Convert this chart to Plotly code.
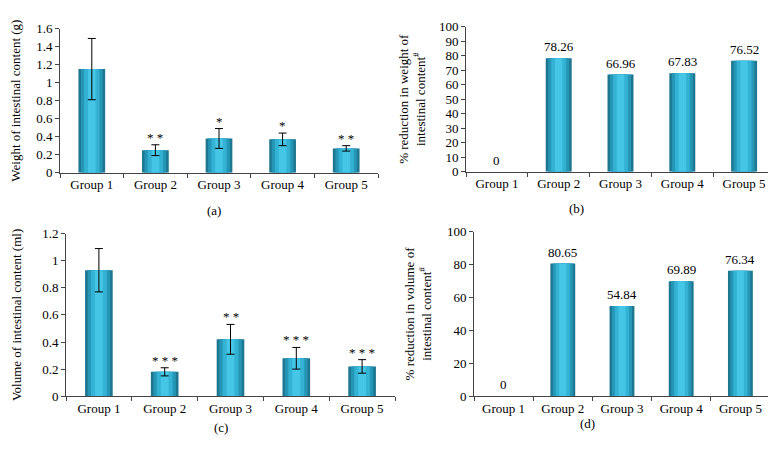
import plotly.graph_objects as go

groups = ["Group 1", "Group 2", "Group 3", "Group 4", "Group 5"]
weight = [1.15, 0.25, 0.38, 0.37, 0.27]
weight_err = [0.34, 0.06, 0.11, 0.07, 0.03]
weight_sig = ["", "* *", "*", "*", "* *"]
weight_red = [0, 78.26, 66.96, 67.83, 76.52]
volume = [0.93, 0.18, 0.42, 0.28, 0.22]
volume_err = [0.16, 0.03, 0.11, 0.08, 0.05]
volume_sig = ["", "* * *", "* *", "* * *", "* * *"]
volume_red = [0, 80.65, 54.84, 69.89, 76.34]

W, H = 776, 462
FONT = "Liberation Serif"

def xd(a, b):
    return [a / W, b / W]

def yd(top, bottom):
    return [1 - bottom / H, 1 - top / H]

panels = [
    dict(x="x", y="y", xdom=xd(52, 370), ydom=yd(14, 163)),
    dict(x="x2", y="y2", xdom=xd(458, 767), ydom=yd(12, 162)),
    dict(x="x3", y="y3", xdom=xd(58, 387), ydom=yd(226, 394)),
    dict(x="x4", y="y4", xdom=xd(466, 762), ydom=yd(224, 394)),
]

fig = go.Figure()

layers = [(0.42, "#1d7791"), (0.34, "#2596b6"), (0.24, "#33b2d4"), (0.12, "#45c6e6")]

def add_bars(vals, p, err=None):
    for i, (w, c) in enumerate(layers):
        last = i == len(layers) - 1
        kw = {}
        if last and err is not None:
            kw["error_y"] = dict(type="data", array=err, visible=True,
                                 color="black", thickness=1, width=4)
        fig.add_trace(go.Bar(x=groups, y=vals, width=w, marker=dict(color=c, line=dict(width=0)),
                             xaxis=p["x"], yaxis=p["y"], showlegend=False, hoverinfo="skip", **kw))

add_bars(weight, panels[0], err=weight_err)
add_bars(weight_red, panels[1])
add_bars(volume, panels[2], err=volume_err)
add_bars(volume_red, panels[3])

annotations = []
for vals, errs, sig, p in [(weight, weight_err, weight_sig, panels[0]),
                           (volume, volume_err, volume_sig, panels[2])]:
    for g, v, e, s in zip(groups, vals, errs, sig):
        if s:
            annotations.append(dict(x=g, y=v + e, xref=p["x"], yref=p["y"], text=s,
                                    showarrow=False, yanchor="bottom", yshift=-2,
                                    font=dict(family=FONT, size=13, color="black")))

for vals, p in [(weight_red, panels[1]), (volume_red, panels[3])]:
    for g, v in zip(groups, vals):
        annotations.append(dict(x=g, y=v, xref=p["x"], yref=p["y"],
                                text="0" if v == 0 else f"{v:.2f}",
                                showarrow=False, yanchor="bottom", yshift=2,
                                font=dict(family=FONT, size=13, color="black")))

for lab, xx, yy in [("(a)", 197, 202), ("(b)", 578, 200), ("(c)", 204, 436), ("(d)", 589, 432)]:
    annotations.append(dict(x=xx / W, y=1 - yy / H, xref="paper", yref="paper", text=lab,
                            showarrow=False, font=dict(family=FONT, size=13, color="black")))

layout = dict(
    width=W, height=H, margin=dict(l=0, r=0, t=0, b=0),
    paper_bgcolor="white", plot_bgcolor="white",
    barmode="overlay", annotations=annotations,
    font=dict(family=FONT, size=13, color="black"),
)

ycfg = [
    dict(range=[0, 1.6], dtick=0.2, title="Weight of intestinal content (g)", standoff=14),
    dict(range=[0, 100], dtick=10, title="% reduction in weight of<br>intestinal content<sup>#</sup>", standoff=10),
    dict(range=[0, 1.2], dtick=0.2, title="Volume of intestinal content (ml)", standoff=17),
    dict(range=[0, 100], dtick=20, title="% reduction in volume of<br>intestinal content<sup>#</sup>", standoff=12),
]

for i, (p, yc) in enumerate(zip(panels, ycfg)):
    sfx = "" if i == 0 else str(i + 1)
    layout["xaxis" + sfx] = dict(
        domain=p["xdom"], anchor=p["y"], type="category", tickson="boundaries",
        ticks="outside", ticklen=4, tickcolor="#444", showline=True, linecolor="#444",
        linewidth=1, showgrid=False, zeroline=False,
        tickfont=dict(family=FONT, size=13, color="black"),
    )
    layout["yaxis" + sfx] = dict(
        domain=p["ydom"], anchor=p["x"], range=yc["range"], dtick=yc["dtick"],
        ticks="outside", ticklen=4, tickcolor="#444", showline=True, linecolor="#444",
        linewidth=1, showgrid=False, zeroline=False,
        tickfont=dict(family=FONT, size=13, color="black"),
        title=dict(text=yc["title"], font=dict(family=FONT, size=13, color="black"),
                   standoff=yc["standoff"]),
    )

fig.update_layout(**layout)
fig.write_html("out.html")
